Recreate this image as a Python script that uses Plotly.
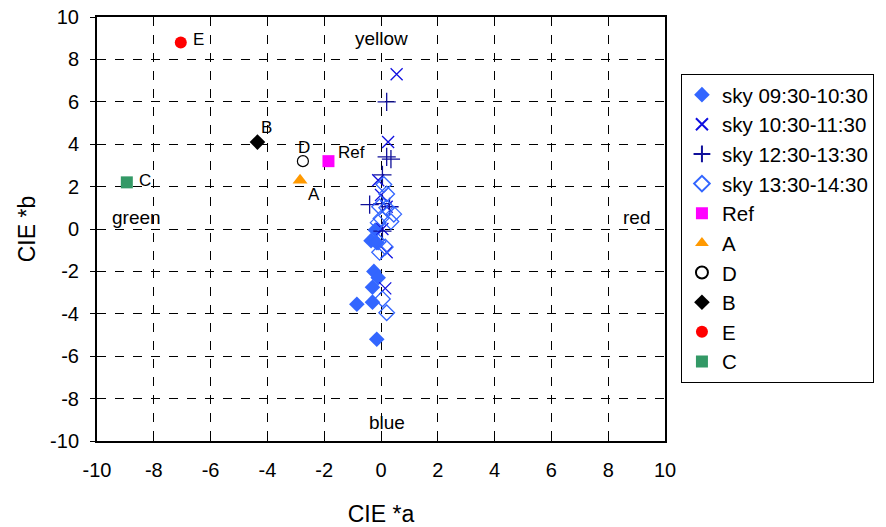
import plotly.graph_objects as go

# Sky measurements, CIE a* / b*
sky_0930_a = [-0.2, -0.35, -0.15, -0.25, -0.1, -0.3, -0.3, -0.85, -0.15]
sky_0930_b = [-0.05, -0.55, -0.65, -2.0, -2.3, -2.75, -3.45, -3.55, -5.2]

sky_1030_a = [0.55, 0.25, -0.1, 0.0, 0.2, 0.05, 0.2, 0.15]
sky_1030_b = [7.3, 4.1, 2.3, 1.6, 1.05, 0.0, -1.1, -2.8]

sky_1230_a = [0.2, 0.2, 0.35, 0.05, -0.4, 0.05, 0.3, 0.05]
sky_1230_b = [6.0, 3.4, 3.3, 2.55, 1.15, 1.2, 1.05, -0.1]

sky_1330_a = [0.1, 0.2, -0.05, 0.2, 0.45, 0.0, -0.1, 0.35, -0.1, 0.15, -0.05, 0.05, 0.2]
sky_1330_b = [2.1, 1.65, 1.05, 1.0, 0.7, 0.5, 0.3, 0.35, -0.6, -0.85, -1.1, -3.3, -3.95]

# Reference samples
sample_names = ["Ref", "A", "D", "B", "E", "C"]
sample_a = [-1.85, -2.85, -2.75, -4.35, -7.05, -8.95]
sample_b = [3.2, 2.3, 3.2, 4.1, 8.8, 2.2]

# Direction words in the a*/b* plane
dir_words = ["yellow", "blue", "green", "red"]
dir_a = [0.0, 0.2, -8.6, 9.0]
dir_b = [9.0, -9.15, 0.55, 0.55]

# Axis ticks (plain hyphen for negatives)
tick_vals = [-10, -8, -6, -4, -2, 0, 2, 4, 6, 8, 10]
tick_text = ["-10", "-8", "-6", "-4", "-2", "0", "2", "4", "6", "8", "10"]

FONT = "Arial, Liberation Sans, sans-serif"
BLUE = "#3366FF"

fig = go.Figure()

fig.add_trace(go.Scatter(x=sky_0930_a, y=sky_0930_b, mode="markers", name="sky 09:30-10:30",
                         marker=dict(symbol="diamond", size=12, color=BLUE)))
fig.add_trace(go.Scatter(x=sky_1030_a, y=sky_1030_b, mode="markers", name="sky 10:30-11:30",
                         marker=dict(symbol="x-thin", size=12, color="#1010E0",
                                     line=dict(width=1.3, color="#1010E0"))))
fig.add_trace(go.Scatter(x=sky_1230_a, y=sky_1230_b, mode="markers", name="sky 12:30-13:30",
                         marker=dict(symbol="cross-thin", size=13, color="#10109A",
                                     line=dict(width=1.3, color="#10109A"))))
fig.add_trace(go.Scatter(x=sky_1330_a, y=sky_1330_b, mode="markers", name="sky 13:30-14:30",
                         marker=dict(symbol="diamond-open", size=12, color=BLUE,
                                     line=dict(width=1.3, color=BLUE))))

sample_styles = {
    "Ref": dict(symbol="square", size=12, color="#FF00FF"),
    "A": dict(symbol="triangle-up", size=13, color="#FF9900"),
    "D": dict(symbol="circle-open", size=11, color="black", line=dict(width=1.2, color="black")),
    "B": dict(symbol="diamond", size=12, color="black"),
    "E": dict(symbol="circle", size=12, color="#FF0000"),
    "C": dict(symbol="square", size=12, color="#339966"),
}
label_offsets = {
    "Ref": (23, 9), "A": (14, -14), "D": (1, 14), "B": (9, 15), "E": (18, 3), "C": (18, 2),
}
for name, a, b in zip(sample_names, sample_a, sample_b):
    fig.add_trace(go.Scatter(x=[a], y=[b], mode="markers", name=name,
                             marker=sample_styles[name]))
    dx, dy = label_offsets[name]
    fig.add_annotation(x=a, y=b, text=name, showarrow=False, xshift=dx, yshift=dy,
                       font=dict(family=FONT, size=17, color="black"))

for w, a, b in zip(dir_words, dir_a, dir_b):
    fig.add_annotation(x=a, y=b, text=w, showarrow=False,
                       font=dict(family=FONT, size=19, color="black"))

axis_common = dict(
    range=[-10, 10], tickmode="array", tickvals=tick_vals, ticktext=tick_text,
    showgrid=True, gridcolor="black", griddash="dash", gridwidth=1,
    zeroline=False, showline=True, linecolor="black", linewidth=2, mirror=True,
    ticklen=5, tickcolor="black", tickwidth=1, automargin=False,
    tickfont=dict(family=FONT, size=20, color="black"),
)

fig.update_xaxes(**axis_common, ticks="inside", ticklabelstandoff=10,
                 title=dict(text="CIE *a", font=dict(family=FONT, size=23, color="black"), standoff=28))
fig.update_yaxes(**axis_common, ticks="outside", ticklabelstandoff=7,
                 title=dict(text="CIE *b", font=dict(family=FONT, size=23, color="black"), standoff=8))

fig.update_layout(
    width=886, height=527,
    margin=dict(l=97, r=219, t=17, b=86),
    paper_bgcolor="white", plot_bgcolor="white",
    showlegend=True,
    legend=dict(x=(683 - 97) / 570, y=0.866, xanchor="left", yanchor="top",
                bordercolor="black", borderwidth=1, bgcolor="white",
                font=dict(family=FONT, size=20.5, color="black"),
                itemsizing="constant", itemwidth=30, tracegroupgap=0),
    font=dict(family=FONT, color="black"),
)

fig.write_html("out.html")
